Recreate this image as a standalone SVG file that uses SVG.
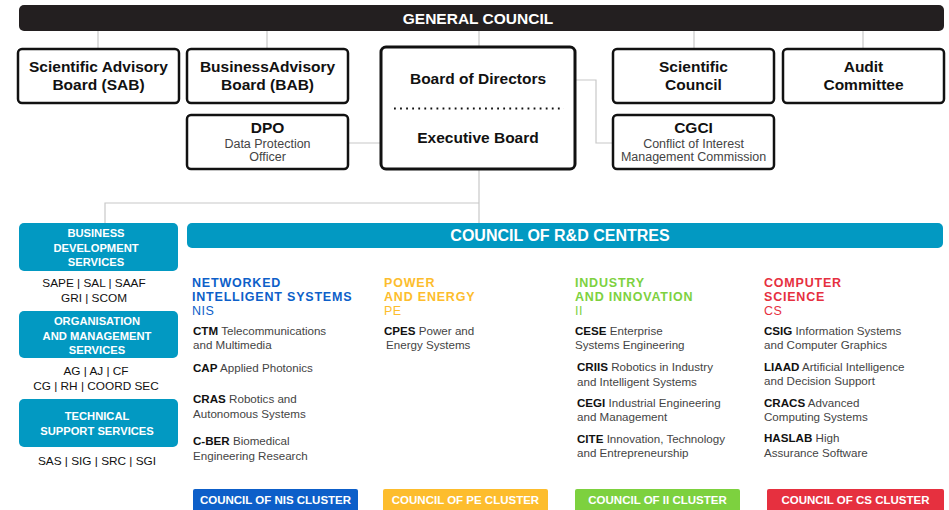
<svg xmlns="http://www.w3.org/2000/svg" width="949" height="510" viewBox="0 0 949 510">
<style>
text{font-family:"Liberation Sans",Arial,sans-serif}
.box{fill:#fff;stroke:#111;stroke-width:2.5}
.bt{font-weight:bold;font-size:15.5px;fill:#111;text-anchor:middle}
.st{font-size:12.5px;fill:#444;text-anchor:middle}
.conn{fill:none;stroke:#c8c8c8;stroke-width:1.2}
.svc{fill:#0299c2}
.svt{font-weight:bold;font-size:11.2px;fill:#fff;text-anchor:middle}
.sub{font-size:11.8px;fill:#111;text-anchor:middle}
.hd{font-weight:bold;font-size:12.5px;letter-spacing:0.8px}
.cd{font-size:12.5px;letter-spacing:0.5px}
.it{font-size:11.6px;fill:#444}
.it tspan.b{font-weight:bold;fill:#111}
.cl{font-weight:bold;font-size:11.5px;fill:#fff;text-anchor:middle}
</style>
<g id="connectors">
<path class="conn" d="M98 31V49M267 31V49M479 31V47M694 31V49M863 31V49"/>
<path class="conn" d="M348 143H381"/>
<path class="conn" d="M575 80H596V143H613"/>
<path class="conn" d="M479 169V223M479 203H105V223"/>
</g>
<g id="general-council">
<rect x="19" y="5" width="925" height="26" rx="5" fill="#231f20"/>
<text x="478" y="24" font-weight="bold" font-size="15.5" fill="#fff" text-anchor="middle">GENERAL COUNCIL</text>
</g>
<g id="sab">
<rect class="box" x="18" y="49" width="161" height="54" rx="4"/>
<text class="bt" x="98.5" y="72">Scientific Advisory</text>
<text class="bt" x="98.5" y="90">Board (SAB)</text>
</g>
<g id="bab">
<rect class="box" x="187" y="49" width="161" height="54" rx="4"/>
<text class="bt" x="267.5" y="72">BusinessAdvisory</text>
<text class="bt" x="267.5" y="90">Board (BAB)</text>
</g>
<g id="dpo">
<rect class="box" x="187" y="115" width="161" height="54" rx="4"/>
<text class="bt" x="267.5" y="133">DPO</text>
<text class="st" x="267.5" y="148">Data Protection</text>
<text class="st" x="267.5" y="161">Officer</text>
</g>
<g id="board">
<rect x="381" y="47" width="194" height="122" rx="5" fill="#fff" stroke="#111" stroke-width="3"/>
<text class="bt" x="478" y="84">Board of Directors</text>
<line x1="394" y1="108.5" x2="564" y2="108.5" stroke="#111" stroke-width="2" stroke-dasharray="1.8 4.27"/>
<text class="bt" x="478" y="143">Executive Board</text>
</g>
<g id="scientific-council">
<rect class="box" x="613" y="49" width="161" height="54" rx="4"/>
<text class="bt" x="693.5" y="72">Scientific</text>
<text class="bt" x="693.5" y="90">Council</text>
</g>
<g id="audit">
<rect class="box" x="783" y="49" width="161" height="54" rx="4"/>
<text class="bt" x="863.5" y="72">Audit</text>
<text class="bt" x="863.5" y="90">Committee</text>
</g>
<g id="cgci">
<rect class="box" x="613" y="115" width="161" height="54" rx="4"/>
<text class="bt" x="693.5" y="133">CGCI</text>
<text class="st" x="693.5" y="148">Conflict of Interest</text>
<text class="st" x="693.5" y="161">Management Commission</text>
</g>
<g id="business-dev">
<rect class="svc" x="19" y="223" width="159" height="48" rx="5"/>
<text class="svt" x="96" y="237">BUSINESS</text>
<text class="svt" x="96" y="252">DEVELOPMENT</text>
<text class="svt" x="96" y="266">SERVICES</text>
<text class="sub" x="94" y="287">SAPE | SAL | SAAF</text>
<text class="sub" x="94" y="302">GRI | SCOM</text>
</g>
<g id="org-mgmt">
<rect class="svc" x="19" y="311" width="159" height="47" rx="5"/>
<text class="svt" x="97" y="325">ORGANISATION</text>
<text class="svt" x="97" y="340">AND MANAGEMENT</text>
<text class="svt" x="97" y="354">SERVICES</text>
<text class="sub" x="96" y="375">AG | AJ | CF</text>
<text class="sub" x="96" y="390">CG | RH | COORD SEC</text>
</g>
<g id="technical">
<rect class="svc" x="19" y="399" width="159" height="48" rx="5"/>
<text class="svt" x="97" y="420">TECHNICAL</text>
<text class="svt" x="97" y="435">SUPPORT SERVICES</text>
<text class="sub" x="97" y="465">SAS | SIG | SRC | SGI</text>
</g>
<g id="council-rd">
<rect class="svc" x="187" y="223" width="756" height="25" rx="5"/>
<text x="560" y="241" font-weight="bold" font-size="16" fill="#fff" text-anchor="middle">COUNCIL OF R&amp;D CENTRES</text>
</g>
<g id="nis">
<text class="hd" x="192" y="287" fill="#0d5fc9">NETWORKED</text>
<text class="hd" x="192" y="301" fill="#0d5fc9">INTELLIGENT SYSTEMS</text>
<text class="cd" x="192" y="315" fill="#0d5fc9">NIS</text>
<text class="it" x="193" y="335"><tspan class="b">CTM</tspan> Telecommunications</text>
<text class="it" x="193" y="349">and Multimedia</text>
<text class="it" x="193" y="372"><tspan class="b">CAP</tspan> Applied Photonics</text>
<text class="it" x="193" y="403"><tspan class="b">CRAS</tspan> Robotics and</text>
<text class="it" x="193" y="418">Autonomous Systems</text>
<text class="it" x="193" y="445"><tspan class="b">C-BER</tspan> Biomedical</text>
<text class="it" x="193" y="460">Engineering Research</text>
<rect x="193" y="489" width="165" height="24" rx="2" fill="#0d5fc9"/>
<text class="cl" x="275.5" y="504">COUNCIL OF NIS CLUSTER</text>
</g>
<g id="pe">
<text class="hd" x="384" y="287" fill="#fdbd2d">POWER</text>
<text class="hd" x="384" y="301" fill="#fdbd2d">AND ENERGY</text>
<text class="cd" x="384" y="315" fill="#fdbd2d">PE</text>
<text class="it" x="384" y="335"><tspan class="b">CPES</tspan> Power and</text>
<text class="it" x="386" y="349">Energy Systems</text>
<rect x="383" y="489" width="165" height="24" rx="2" fill="#fdbd2d"/>
<text class="cl" x="465.5" y="504">COUNCIL OF PE CLUSTER</text>
</g>
<g id="ii">
<text class="hd" x="575" y="287" fill="#7dd13f">INDUSTRY</text>
<text class="hd" x="575" y="301" fill="#7dd13f">AND INNOVATION</text>
<text class="cd" x="575" y="315" fill="#7dd13f">II</text>
<text class="it" x="575" y="335"><tspan class="b">CESE</tspan> Enterprise</text>
<text class="it" x="575" y="349">Systems Engineering</text>
<text class="it" x="577" y="371"><tspan class="b">CRIIS</tspan> Robotics in Industry</text>
<text class="it" x="577" y="386">and Intelligent Systems</text>
<text class="it" x="577" y="407"><tspan class="b">CEGI</tspan> Industrial Engineering</text>
<text class="it" x="577" y="421">and Management</text>
<text class="it" x="577" y="443"><tspan class="b">CITE</tspan> Innovation, Technology</text>
<text class="it" x="577" y="457">and Entrepreneurship</text>
<rect x="575" y="489" width="165" height="24" rx="2" fill="#7dd13f"/>
<text class="cl" x="657.5" y="504">COUNCIL OF II CLUSTER</text>
</g>
<g id="cs">
<text class="hd" x="764" y="287" fill="#e6303f">COMPUTER</text>
<text class="hd" x="764" y="301" fill="#e6303f">SCIENCE</text>
<text class="cd" x="764" y="315" fill="#e6303f">CS</text>
<text class="it" x="764" y="335"><tspan class="b">CSIG</tspan> Information Systems</text>
<text class="it" x="764" y="349">and Computer Graphics</text>
<text class="it" x="764" y="371"><tspan class="b">LIAAD</tspan> Artificial Intelligence</text>
<text class="it" x="764" y="385">and Decision Support</text>
<text class="it" x="764" y="407"><tspan class="b">CRACS</tspan> Advanced</text>
<text class="it" x="764" y="421">Computing Systems</text>
<text class="it" x="764" y="442"><tspan class="b">HASLAB</tspan> High</text>
<text class="it" x="764" y="457">Assurance Software</text>
<rect x="767" y="489" width="177" height="24" rx="2" fill="#e6303f"/>
<text class="cl" x="855.5" y="504">COUNCIL OF CS CLUSTER</text>
</g>
</svg>
